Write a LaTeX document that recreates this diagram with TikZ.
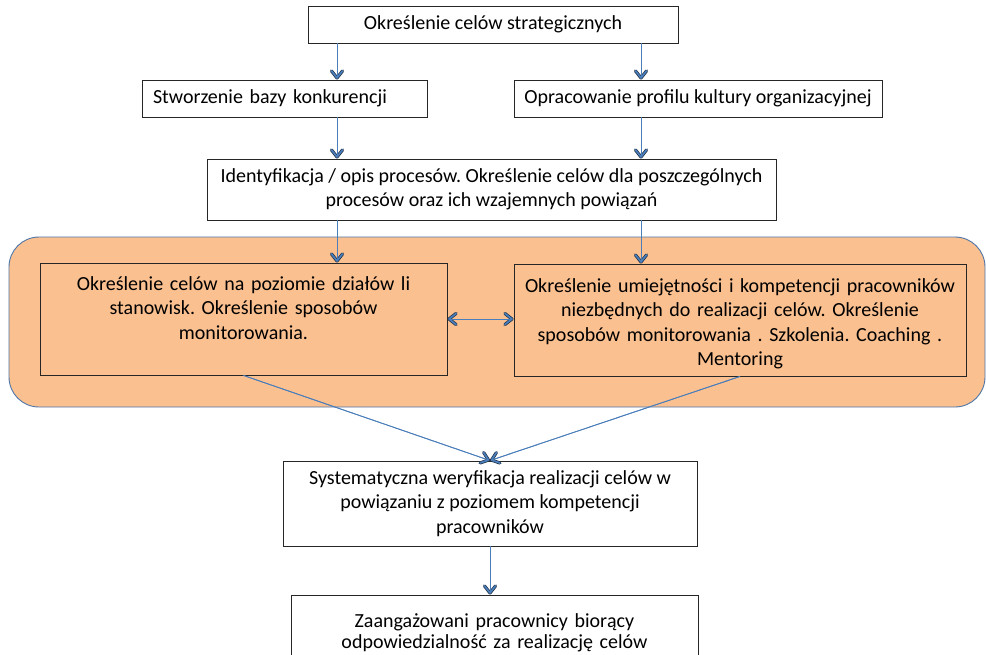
\documentclass[tikz,border=0pt]{standalone}
\usepackage{fontspec}
\setmainfont{Carlito}
\usetikzlibrary{arrows.meta,calc}
\definecolor{lineblue}{HTML}{4A7EBB}
\definecolor{tipdark}{HTML}{26364C}
\definecolor{grpfill}{HTML}{FAC090}
\definecolor{grpedge}{HTML}{4F76A8}
\newcommand\fs{\fontsize{20pt}{24.5pt}\selectfont\frenchspacing}
\tikzset{
  tipO/.tip={Straight Barb[length=7pt,width=11pt,line width=3.2pt,round,color=tipdark]},
  tipI/.tip={Straight Barb[length=7pt,width=11pt,line width=1.7pt,round,color=lineblue]},
  connO/.style={draw=lineblue,line width=0.8pt},
  connI/.style={draw=lineblue,line width=0.8pt},
  box/.style={draw=black!85,line width=0.9pt,inner sep=0pt,font=\fs,align=center},
  obox/.style={box,fill=grpfill},
  txt/.style={inner sep=0pt,font=\fs,align=center,anchor=base},
  grp/.style={draw=grpedge,line width=0.9pt,fill=grpfill,rounded corners=30pt,inner sep=0pt}
}
\newcommand\conn[1]{\draw[connO,-tipO] #1; \draw[connI,-tipI,shorten >=0.8pt] #1;}
\newcommand\dconn[1]{\draw[connO,tipO-tipO] #1; \draw[connI,tipI-tipI,shorten >=0.8pt,shorten <=0.8pt] #1;}
\begin{document}
\begin{tikzpicture}[x=1pt,y=-1pt]
\clip (0,0) rectangle (986,654);
\fill[white] (0,0) rectangle (986,654);
\node[grp,minimum width=976pt,minimum height=170pt] (grp) at (497,322) {};
\node[box,minimum width=370pt,minimum height=37pt] (b1) at (493,24.5) {Określenie celów strategicznych};
\node[box,minimum width=285pt,minimum height=37pt,text width=263pt,align=left] (b2) at (284.5,98.5) {Stworzenie bazy konkurencji};
\node[box,minimum width=368pt,minimum height=37pt] (b3) at (698,98.5) {Opracowanie profilu kultury organizacyjnej};
\node[box,minimum width=569pt,minimum height=61pt] (b4) at (491.5,189.5) {Identyfikacja / opis procesów. Określenie celów dla poszczególnych\\procesów oraz ich wzajemnych powiązań};
\node[obox,minimum width=407pt,minimum height=112pt] (b5) at (243.5,319) {};
\node[txt,text width=400pt] (t5) at (243.5,290) {Określenie celów na poziomie działów li\\stanowisk. Określenie sposobów\\monitorowania.};
\node[obox,minimum width=452pt,minimum height=112pt] (b6) at (740,320) {};
\node[txt,text width=450pt] (t6) at (740,292) {Określenie umiejętności i kompetencji pracowników\\niezbędnych do realizacji celów. Określenie\\sposobów monitorowania . Szkolenia. Coaching .\\Mentoring};
\node[box,minimum width=414pt,minimum height=85pt] (b7) at (490,503.5) {Systematyczna weryfikacja realizacji celów w\\powiązaniu z poziomem kompetencji\\pracowników};
\node[box,minimum width=407pt,minimum height=85pt] (b8) at (494.5,637.5) {};
\node[txt,text width=400pt,font=\fontsize{20pt}{21pt}\selectfont\frenchspacing] (t8) at (494.5,627) {Zaangażowani pracownicy biorący\\odpowiedzialność za realizację celów};
\coordinate (xl) at (337,0);
\coordinate (xr) at (641,0);
\conn{(b1.south -| xl) -- (b2.north -| xl)}
\conn{(b1.south -| xr) -- (b3.north -| xr)}
\conn{(b2.south -| xl) -- (b4.north -| xl)}
\conn{(b3.south -| xr) -- (b4.north -| xr)}
\conn{(b4.south -| xl) -- (b5.north -| xl)}
\conn{(b4.south -| xr) -- (b6.north -| xr)}
\dconn{(b5.east) -- (b5.east -| b6.west)}
\conn{(b5.south) -- (b7.north)}
\conn{(b6.south) -- (b7.north)}
\conn{(b7.south) -- (b7.south |- b8.north)}
\end{tikzpicture}
\end{document}
